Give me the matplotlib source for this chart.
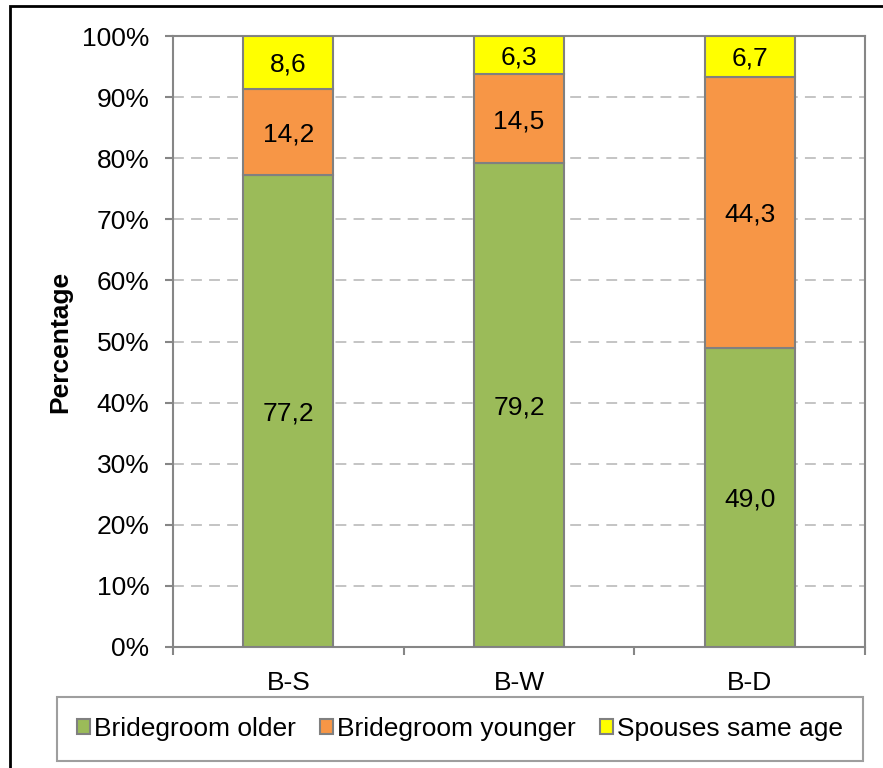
import numpy as np
import matplotlib.pyplot as plt
from matplotlib.patches import Rectangle
from matplotlib.ticker import FixedLocator, PercentFormatter

plt.rcParams['font.family'] = ['Liberation Sans', 'DejaVu Sans']

groups = ['B-S', 'B-W', 'B-D']
older = [77.2, 79.2, 49.0]
younger = [14.2, 14.5, 44.3]
same_age = [8.6, 6.3, 6.7]
series_names = ['Bridegroom older', 'Bridegroom younger', 'Spouses same age']
colors = ['#9BBB59', '#F79646', '#FFFF00']

fs = 19

fig = plt.figure(figsize=(8.83, 7.68), dpi=100)
ax = fig.add_axes([173/883, 1-647/768, 692/883, 611/768])

x = np.arange(len(groups))
bottom = np.zeros(len(groups))
for vals, name, col in zip([older, younger, same_age], series_names, colors):
    vals = np.array(vals)
    ax.bar(x, vals, 0.39, bottom=bottom, color=col, edgecolor='#808080',
           linewidth=1.5, label=name, zorder=3)
    for xi, b, v in zip(x, bottom, vals):
        ax.text(xi, b + v/2 - 0.4, ('%.1f' % v).replace('.', ','), ha='center',
                va='center', fontsize=fs, zorder=4)
    bottom += vals

ax.set_xlim(-0.5, 2.5)
ax.set_ylim(0, 100)
ax.set_yticks(np.arange(0, 101, 10))
ax.yaxis.set_major_formatter(PercentFormatter(decimals=0))
ax.set_xticks(x)
ax.set_xticklabels(groups)
ax.xaxis.set_minor_locator(FixedLocator([-0.5, 0.5, 1.5, 2.5]))
ax.tick_params(axis='x', which='major', length=0, pad=17, labelsize=fs)
ax.tick_params(axis='x', which='minor', length=6, width=1.5, color='#868686')
ax.tick_params(axis='y', length=6, width=1.5, color='#868686', labelsize=fs, pad=11)

ax.grid(axis='y', color='#BFBFBF', linestyle=(0, (6, 4)), linewidth=1.3, zorder=0)
for s in ax.spines.values():
    s.set_color('#868686')
    s.set_linewidth(1.5)

ax.set_ylabel('Percentage', fontsize=fs, fontweight='bold')
ax.yaxis.set_label_coords(-0.145, 0.5)

leg = ax.legend(loc='center', bbox_to_anchor=(460/883, 1-729/768),
                bbox_transform=fig.transFigure, ncol=3, fontsize=fs,
                handlelength=0.5, handleheight=0.5, handletextpad=0.15,
                columnspacing=0.9, frameon=True, fancybox=False,
                borderpad=0.75, borderaxespad=0)
leg.get_frame().set_edgecolor('#868686')
leg.get_frame().set_linewidth(1.5)
for h in leg.legend_handles:
    h.set_edgecolor('#808080')

fig.patches.append(Rectangle((10/883, -0.05), 1.0, 1.05 - 6/768, fill=False,
                             edgecolor='black', linewidth=2,
                             transform=fig.transFigure, figure=fig))

fig.savefig('out.png', dpi=100)
